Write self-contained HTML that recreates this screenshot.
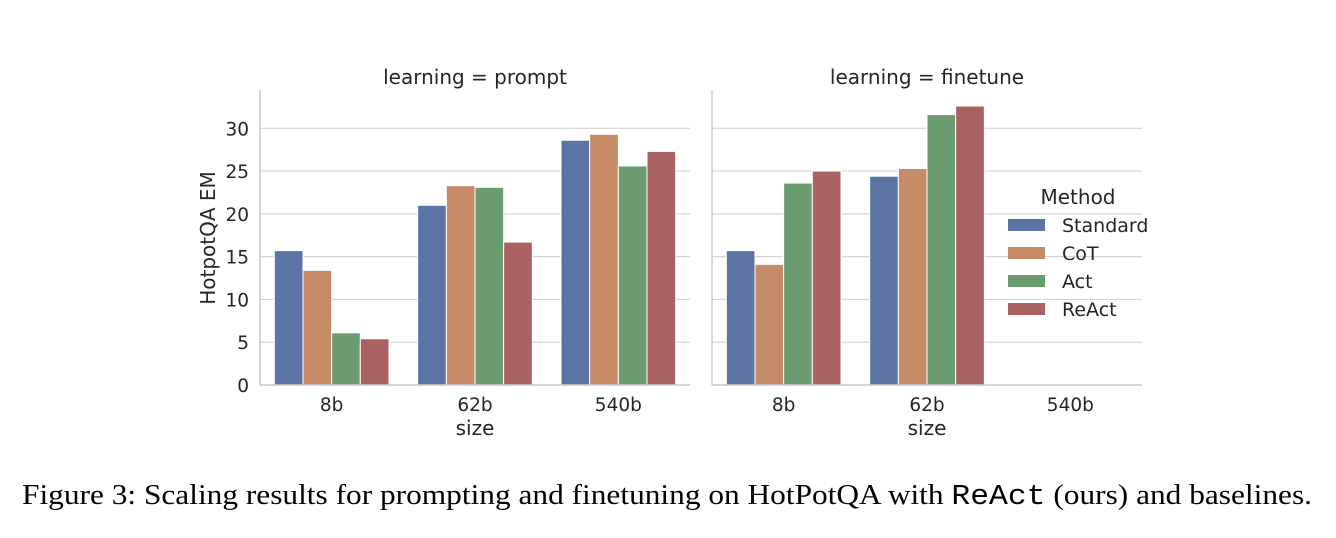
<!DOCTYPE html>
<html><head><meta charset="utf-8"><style>
html,body{margin:0;padding:0;background:#fff;}
svg{display:block;}
</style></head><body>
<svg id="chart" width="1336" height="538" viewBox="0 0 1336 538" xmlns="http://www.w3.org/2000/svg">
<g id="plot"></g>
<text x="22" y="504" font-family="Liberation Serif, serif" font-size="29" fill="#000" textLength="1290" lengthAdjust="spacingAndGlyphs">Figure 3: Scaling results for prompting and finetuning on HotPotQA with <tspan font-family="Liberation Mono, monospace">ReAct</tspan> (ours) and baselines.</text>
</svg>
<script>
const categories = ["8b","62b","540b"];
const methods = ["Standard","CoT","Act","ReAct"];
const colors = ["#5b74a3","#c48b66","#6b9c70","#a96161"];
const promptValues = [[15.7,21.0,28.6],[13.4,23.3,29.3],[6.1,23.1,25.6],[5.4,16.7,27.3]];
const finetuneValues = [[15.7,24.4,null],[14.1,25.3,null],[23.6,31.6,null],[25.0,32.6,null]];
const yTicks = [0,5,10,15,20,25,30];
const panels = [{title:"learning = prompt", x0:260, x1:690, vals:promptValues},
                {title:"learning = finetune", x0:712, x1:1142, vals:finetuneValues}];
const NS="http://www.w3.org/2000/svg";
const g=document.getElementById('plot');
const yBase=385, yPer=8.557, yTop=90;
function yScale(v){return yBase - v*yPer;}
function mk(tag,attrs,parent){const e=document.createElementNS(NS,tag);for(const k in attrs)e.setAttribute(k,attrs[k]);(parent||g).appendChild(e);return e;}
const F="DejaVu Sans, Liberation Sans, sans-serif";
panels.forEach((p,pi)=>{
  const catW=(p.x1-p.x0)/categories.length;
  const barW=catW*0.8/methods.length;
  yTicks.forEach(t=>{
    const l=mk('line',{x1:p.x0,x2:p.x1,y1:yScale(t),y2:yScale(t),stroke:'#d6d6d6','stroke-width':1.2});
    
    
    if(pi===0){
      const tx=mk('text',{x:p.x0-11,y:yScale(t)+7,'text-anchor':'end','font-family':F,'font-size':18.5,fill:'#262626'});
      tx.textContent=t;
      
      
    }
  });
  p.vals.forEach((series,mi)=>{
    series.forEach((v,ci)=>{
      if(v===null)return;
      const x=p.x0+ci*catW+catW*0.1+mi*barW;
      const r=mk('rect',{x:x,y:yScale(v),width:barW,height:yBase-yScale(v),fill:colors[mi],stroke:'#fff','stroke-width':1});
      
      
    });
  });
  const ax=mk('line',{x1:p.x0,x2:p.x1,y1:yBase,y2:yBase,stroke:'#cccccc','stroke-width':1.5});
  
  
  const ay=mk('line',{x1:p.x0,x2:p.x0,y1:yTop,y2:yBase,stroke:'#cccccc','stroke-width':1.5});
  
  
  categories.forEach((c,ci)=>{
    const tx=mk('text',{x:p.x0+(ci+0.5)*catW,y:411,'text-anchor':'middle','font-family':F,'font-size':18.5,fill:'#262626'});
    tx.textContent=c;
    
    
  });
  const xt=mk('text',{x:(p.x0+p.x1)/2,y:435,'text-anchor':'middle','font-family':F,'font-size':20,fill:'#262626'});
  xt.textContent='size';
  
  
  const tt=mk('text',{x:(p.x0+p.x1)/2,y:84,'text-anchor':'middle','font-family':F,'font-size':20,fill:'#262626'});
  tt.textContent=p.title;
  
  
});
const yl=mk('text',{x:0,y:0,'text-anchor':'middle','font-family':F,'font-size':20,fill:'#262626',transform:'translate(215,238) rotate(-90)'});
yl.textContent='HotpotQA EM';


const lt=mk('text',{x:1078,y:204,'text-anchor':'middle','font-family':F,'font-size':20,fill:'#262626'});
lt.textContent='Method';


methods.forEach((m,mi)=>{
  const y=225+mi*28;
  const r=mk('rect',{x:1008,y:y-6,width:37,height:12,fill:colors[mi]});
  
  
  const t=mk('text',{x:1062,y:y+7,'font-family':F,'font-size':19,fill:'#262626'});
  t.textContent=m;
  
  
});
</script>
</body></html>
